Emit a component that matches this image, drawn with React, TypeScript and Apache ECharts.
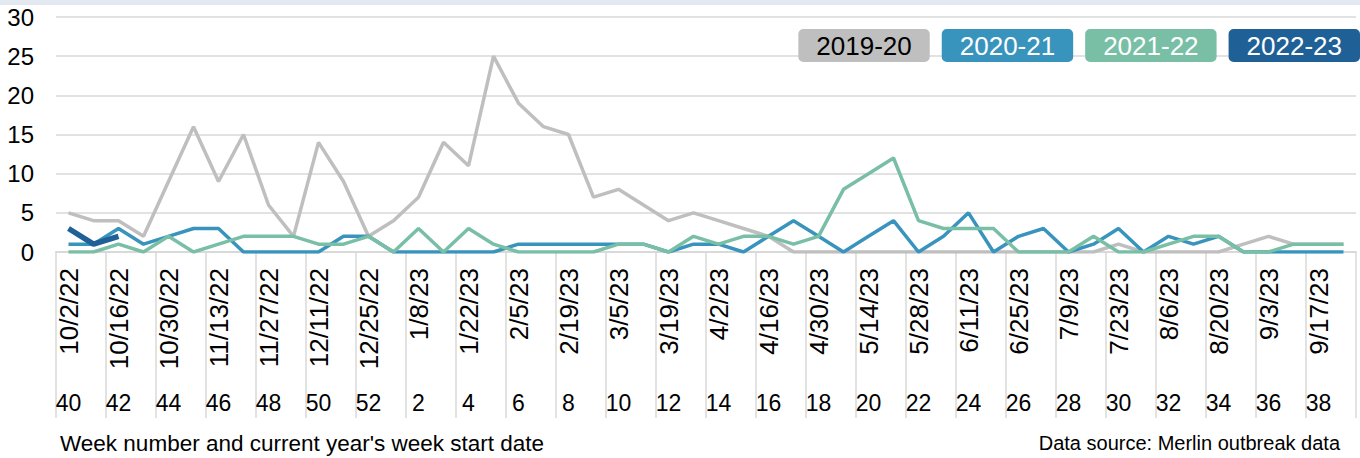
import React, { useEffect, useRef } from "react";
import * as echarts from "echarts";

const weekNumbers = [
  "40", "41", "42", "43", "44", "45", "46", "47", "48", "49", "50", "51", "52",
  "1", "2", "3", "4", "5", "6", "7", "8", "9", "10", "11", "12", "13", "14",
  "15", "16", "17", "18", "19", "20", "21", "22", "23", "24", "25", "26", "27",
  "28", "29", "30", "31", "32", "33", "34", "35", "36", "37", "38", "39",
];

const weekStartDates = [
  "10/2/22", "10/9/22", "10/16/22", "10/23/22", "10/30/22", "11/6/22", "11/13/22",
  "11/20/22", "11/27/22", "12/4/22", "12/11/22", "12/18/22", "12/25/22", "1/1/23",
  "1/8/23", "1/15/23", "1/22/23", "1/29/23", "2/5/23", "2/12/23", "2/19/23",
  "2/26/23", "3/5/23", "3/12/23", "3/19/23", "3/26/23", "4/2/23", "4/9/23",
  "4/16/23", "4/23/23", "4/30/23", "5/7/23", "5/14/23", "5/21/23", "5/28/23",
  "6/4/23", "6/11/23", "6/18/23", "6/25/23", "7/2/23", "7/9/23", "7/16/23",
  "7/23/23", "7/30/23", "8/6/23", "8/13/23", "8/20/23", "8/27/23", "9/3/23",
  "9/10/23", "9/17/23", "9/24/23",
];

const season2019 = [
  5, 4, 4, 2, 9, 16, 9, 15, 6, 2, 14, 9, 2, 4, 7, 14, 11, 25, 19, 16, 15, 7, 8, 6,
  4, 5, 4, 3, 2, 0, 0, 0, 0, 0, 0, 0, 0, 0, 0, 0, 0, 0, 1, 0, 0, 0, 0, 1, 2, 1, 1, 1,
];
const season2020 = [
  1, 1, 3, 1, 2, 3, 3, 0, 0, 0, 0, 2, 2, 0, 0, 0, 0, 0, 1, 1, 1, 1, 1, 1, 0, 1,
  1, 0, 2, 4, 2, 0, 2, 4, 0, 2, 5, 0, 2, 3, 0, 1, 3, 0, 2, 1, 2, 0, 0, 0, 0, 0,
];
const season2021 = [
  0, 0, 1, 0, 2, 0, 1, 2, 2, 2, 1, 1, 2, 0, 3, 0, 3, 1, 0, 0, 0, 0, 1, 1, 0, 2,
  1, 2, 2, 1, 2, 8, 10, 12, 4, 3, 3, 3, 0, 0, 0, 2, 0, 0, 1, 2, 2, 0, 0, 1, 1, 1,
];
const season2022 = [3, 1, 2];

const seriesNames = ["2019-20", "2020-21", "2021-22", "2022-23"];
const seriesColors = ["#bfbfbf", "#3894bd", "#79bfa6", "#1f6196"];
const legendTextColors = ["#000000", "#ffffff", "#ffffff", "#ffffff"];
const seriesValues = [season2019, season2020, season2021, season2022];
const lineWidths = [3.5, 3.5, 3.5, 5.5];

const FONT = "'Liberation Sans', Arial, sans-serif";

export default function App() {
  const ref = useRef<HTMLDivElement>(null);

  useEffect(() => {
    if (!ref.current) return;
    const chart = echarts.init(ref.current, null, { renderer: "svg" });
    chart.setOption({
      animation: false,
      backgroundColor: "#ffffff",
      textStyle: { fontFamily: FONT },
      grid: { left: 56, right: 4, top: 17, bottom: 206, containLabel: false },
      legend: {
        right: 0,
        top: 29,
        padding: 0,
        itemGap: 7,
        itemWidth: 0,
        itemHeight: 0,
        selectedMode: false,
        data: seriesNames.map((n, i) => ({
          name: n,
          icon: "none",
          textStyle: {
            color: legendTextColors[i],
            backgroundColor: seriesColors[i],
            borderRadius: 5,
            padding: [4, 18, 3, 18],
            fontSize: 26,
            fontFamily: FONT,
          },
        })),
      },
      xAxis: [
        {
          type: "category",
          data: weekStartDates,
          boundaryGap: true,
          axisLine: { show: true, lineStyle: { color: "#d9d9d9", width: 2 } },
          axisTick: {
            show: true,
            interval: 1,
            length: 166,
            lineStyle: { color: "#d9d9d9", width: 1.5 },
          },
          axisLabel: {
            interval: 1,
            rotate: 90,
            margin: 16,
            fontSize: 26,
            color: "#000000",
            fontFamily: FONT,
          },
        },
        {
          type: "category",
          data: weekNumbers,
          position: "bottom",
          boundaryGap: true,
          axisLine: { show: false },
          axisTick: { show: false },
          axisLabel: {
            interval: 1,
            margin: 139,
            fontSize: 23,
            color: "#000000",
            fontFamily: FONT,
          },
        },
      ],
      yAxis: {
        type: "value",
        min: 0,
        max: 30,
        interval: 5,
        axisLine: { show: false },
        axisTick: { show: false },
        axisLabel: { fontSize: 24, color: "#000000", margin: 22, fontFamily: FONT },
        splitLine: { lineStyle: { color: "#d9d9d9", width: 1.5 } },
      },
      series: seriesNames.map((n, i) => ({
        name: n,
        type: "line",
        xAxisIndex: 0,
        data: seriesValues[i],
        showSymbol: false,
        symbol: "none",
        lineStyle: { color: seriesColors[i], width: lineWidths[i] },
        itemStyle: { color: seriesColors[i] },
        z: 2 + i,
      })),
      graphic: [
        {
          type: "rect",
          left: 0,
          top: 0,
          shape: { width: 1360, height: 5 },
          style: { fill: "#e2e9f1" },
        },
        {
          type: "text",
          left: 60,
          top: 432,
          style: {
            text: "Week number and current year's week start date",
            fontSize: 22.5,
            fill: "#000000",
            fontFamily: FONT,
          },
        },
        {
          type: "text",
          right: 20,
          top: 433,
          style: {
            text: "Data source: Merlin outbreak data",
            fontSize: 20,
            fill: "#000000",
            fontFamily: FONT,
          },
        },
      ],
    });
    return () => chart.dispose();
  }, []);

  return (
    <div
      ref={ref}
      style={{ position: "fixed", left: 0, top: 0, width: 1360, height: 458 }}
    />
  );
}
